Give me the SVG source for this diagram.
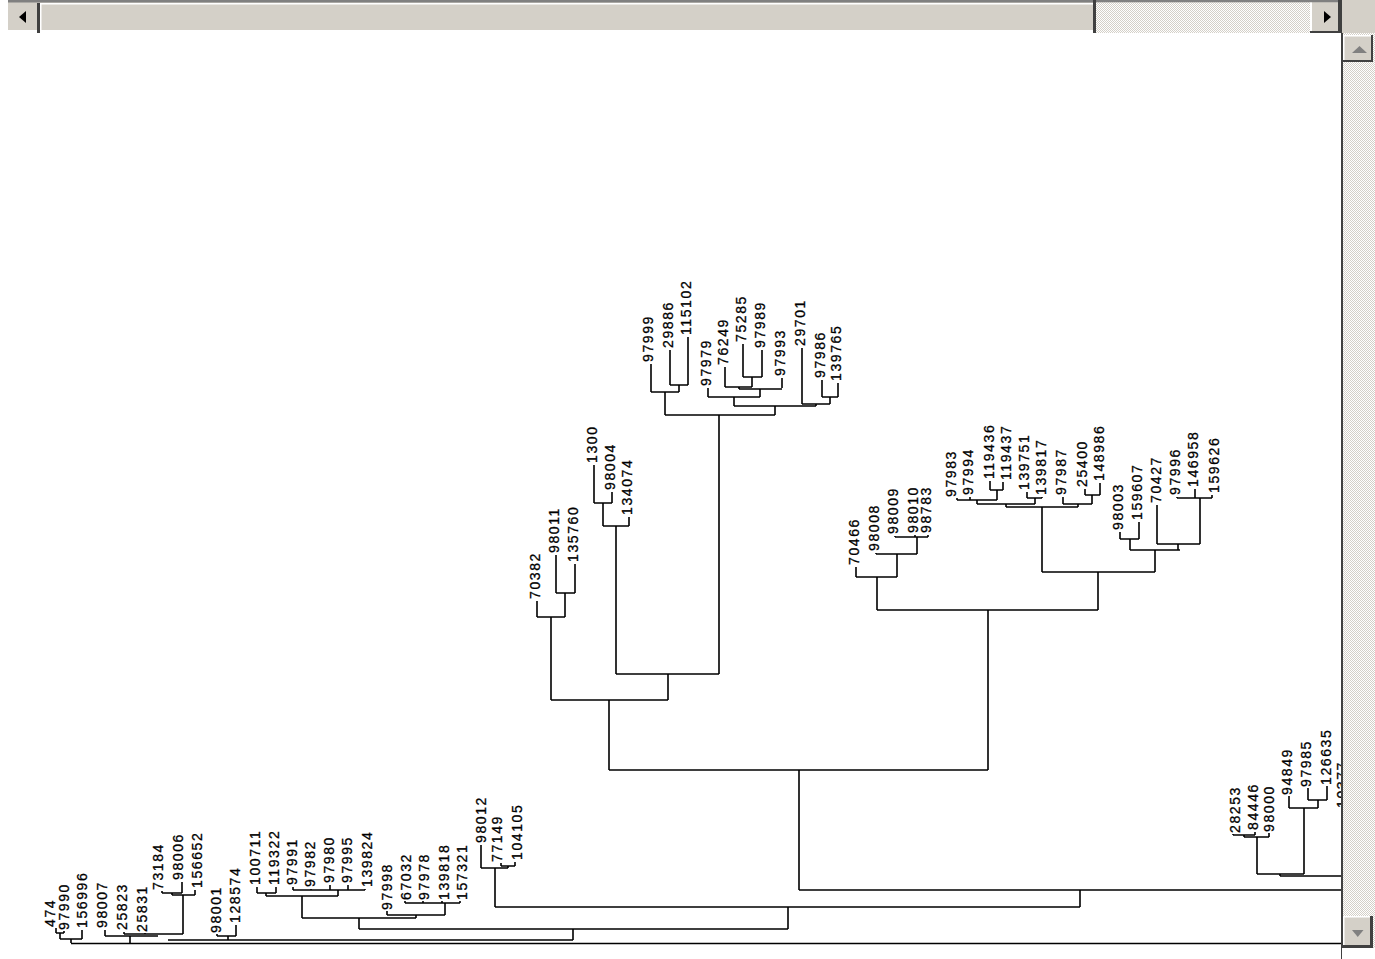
<svg xmlns="http://www.w3.org/2000/svg" width="1375" height="959" viewBox="0 0 1375 959">
<style>
text{font-family:"Liberation Sans",Arial,sans-serif;font-size:14px;letter-spacing:1.6px;fill:#000;stroke:#000;stroke-width:0.3}
.ln{fill:none;stroke:#000;stroke-width:1.6}
.face{fill:#d4d0c8}
</style>
<defs>
<pattern id="chk" width="2" height="2" patternUnits="userSpaceOnUse"><rect width="2" height="2" fill="#fff"/><rect width="1" height="1" fill="#d4d0c8"/><rect x="1" y="1" width="1" height="1" fill="#d4d0c8"/></pattern>
<clipPath id="view"><rect x="0" y="33" width="1342" height="926"/></clipPath>
</defs>
<rect width="1375" height="959" fill="#fff"/>
<g clip-path="url(#view)">
<g id="connectors">
<path class="ln" d="M651 364V392M670 350V385M688 337V385M708 388V397M725 367V387M743 344V377M762 350V377M782 378V388M802 348V404M822 380V397M838 383V397
M670 385H688M679 385V392M651 392H679M665 392V415M743 377H762M752 377V387M725 387H752M739 387V389M739 389H782M760 389V397M708 397H760M734 397V406M822 397H838M830 397V404M802 404H830M816 404V406M734 406H816M775 406V415M665 415H775M719 415V674
M594 465V503M612 492V503M594 503H612M603 503V526M629 517V526M603 526H629M616 526V674
M537 601V617M556 555V593M575 564V593M556 593H575M565 593V617M537 617H565M551 617V700
M616 674H719M668 674V700M551 700H668M609 700V770
M856 567V577M876 553V554M895 536V537M915 535V537M928 535V537M895 537H928M917 537V554M876 554H917M897 554V577M856 577H897M877 577V610
M957 498V500M970 497V500M990 481V490M1003 482V490M990 490H1003M997 490V500M957 500H997M977 500V504
M1027 492V498M1042 497V498M1027 498H1042M1035 498V504M977 504H1035M1006 504V507
M1063 497V504M1085 489V495M1100 483V495M1085 495H1100M1092 495V504M1063 504H1092M1078 504V507M1006 507H1078M1042 507V572
M1120 532V539M1139 522V539M1120 539H1139M1130 539V550
M1157 505V544M1177 497V498M1195 489V498M1212 495V498M1177 498H1212M1200 498V544M1157 544H1200M1178 544V550M1130 550H1180M1155 550V572
M1042 572H1155M1098 572V610M877 610H1098M988 610V770M609 770H988M799 770V890M799 890H1345
M1080 890V907M495 907H1080M788 907V929
M481 845V868M501 863V866M515 862V866M501 866H515M508 866V868M481 868H508M495 868V907
M387 911V915M405 901V903M423 901V903M442 901V903M460 901V903M405 903H460M445 903V915M387 915H445M416 915V918
M257 887V893M276 887V893M257 893H276M266 893V896
M293 887V890M311 889V890M330 885V890M348 885V890M365 889V890M293 890H365M338 890V896M266 896H338M302 896V918
M302 918H416M359 918V929M359 929H788M573 929V940
M56 928V933M64 931V933M56 933H64M60 933V939M82 930V939M60 939H82M71 939V943
M105 930V936M124 932V934M145 933V934M124 934H183
M162 891V893M182 882V893M195 890V895M162 893H182M172 893V895M172 895H195M183 895V934
M105 936H158M130 936V943
M217 934V936M236 925V936M217 936H236M228 936V940
M168 940H573M71 943.5H1345
M1233 834V835M1255 832V835M1233 835H1255M1244 835V837M1269 833V837M1244 837H1269M1257 837V874
M1289 796V808M1308 788V800M1327 786V800M1308 800H1327M1318 800V808M1289 808H1318M1304 808V874
M1257 874H1304M1280 874V876M1280 876H1345"/>
</g>
<g id="leaf-97999"><text transform="translate(653,362) rotate(-90)">97999</text></g>
<g id="leaf-29886"><text transform="translate(673,348) rotate(-90)">29886</text></g>
<g id="leaf-115102"><text transform="translate(691,335) rotate(-90)">115102</text></g>
<g id="leaf-97979"><text transform="translate(711,386) rotate(-90)">97979</text></g>
<g id="leaf-76249"><text transform="translate(728,365) rotate(-90)">76249</text></g>
<g id="leaf-75285"><text transform="translate(746,342) rotate(-90)">75285</text></g>
<g id="leaf-97989"><text transform="translate(765,348) rotate(-90)">97989</text></g>
<g id="leaf-97993"><text transform="translate(785,376) rotate(-90)">97993</text></g>
<g id="leaf-29701"><text transform="translate(805,346) rotate(-90)">29701</text></g>
<g id="leaf-97986"><text transform="translate(825,378) rotate(-90)">97986</text></g>
<g id="leaf-139765"><text transform="translate(841,381) rotate(-90)">139765</text></g>
<g id="leaf-70382"><text transform="translate(540,599) rotate(-90)">70382</text></g>
<g id="leaf-98011"><text transform="translate(559,553) rotate(-90)">98011</text></g>
<g id="leaf-135760"><text transform="translate(578,562) rotate(-90)">135760</text></g>
<g id="leaf-1300"><text transform="translate(597,463) rotate(-90)">1300</text></g>
<g id="leaf-98004"><text transform="translate(615,490) rotate(-90)">98004</text></g>
<g id="leaf-134074"><text transform="translate(632,515) rotate(-90)">134074</text></g>
<g id="leaf-70466"><text transform="translate(859,565) rotate(-90)">70466</text></g>
<g id="leaf-98008"><text transform="translate(879,551) rotate(-90)">98008</text></g>
<g id="leaf-98009"><text transform="translate(898,534) rotate(-90)">98009</text></g>
<g id="leaf-98010"><text transform="translate(918,533) rotate(-90)">98010</text></g>
<g id="leaf-98783"><text transform="translate(931,533) rotate(-90)">98783</text></g>
<g id="leaf-97983"><text transform="translate(956,497) rotate(-90)">97983</text></g>
<g id="leaf-97994"><text transform="translate(973,495) rotate(-90)">97994</text></g>
<g id="leaf-119436"><text transform="translate(994,479) rotate(-90)">119436</text></g>
<g id="leaf-119437"><text transform="translate(1011,480) rotate(-90)">119437</text></g>
<g id="leaf-139751"><text transform="translate(1029,490) rotate(-90)">139751</text></g>
<g id="leaf-139817"><text transform="translate(1046,495) rotate(-90)">139817</text></g>
<g id="leaf-97987"><text transform="translate(1066,495) rotate(-90)">97987</text></g>
<g id="leaf-25400"><text transform="translate(1087,487) rotate(-90)">25400</text></g>
<g id="leaf-148986"><text transform="translate(1104,481) rotate(-90)">148986</text></g>
<g id="leaf-98003"><text transform="translate(1123,530) rotate(-90)">98003</text></g>
<g id="leaf-159607"><text transform="translate(1142,520) rotate(-90)">159607</text></g>
<g id="leaf-70427"><text transform="translate(1161,503) rotate(-90)">70427</text></g>
<g id="leaf-97996"><text transform="translate(1180,495) rotate(-90)">97996</text></g>
<g id="leaf-146958"><text transform="translate(1198,487) rotate(-90)">146958</text></g>
<g id="leaf-159626"><text transform="translate(1219,493) rotate(-90)">159626</text></g>
<g id="leaf-474"><text transform="translate(55,927) rotate(-90)">474</text></g>
<g id="leaf-97990"><text transform="translate(69,930) rotate(-90)">97990</text></g>
<g id="leaf-156996"><text transform="translate(87,928) rotate(-90)">156996</text></g>
<g id="leaf-98007"><text transform="translate(107,928) rotate(-90)">98007</text></g>
<g id="leaf-25823"><text transform="translate(127,930) rotate(-90)">25823</text></g>
<g id="leaf-25831"><text transform="translate(147,932) rotate(-90)">25831</text></g>
<g id="leaf-73184"><text transform="translate(163,890) rotate(-90)">73184</text></g>
<g id="leaf-98006"><text transform="translate(183,880) rotate(-90)">98006</text></g>
<g id="leaf-156652"><text transform="translate(202,888) rotate(-90)">156652</text></g>
<g id="leaf-98001"><text transform="translate(221,933) rotate(-90)">98001</text></g>
<g id="leaf-128574"><text transform="translate(240,923) rotate(-90)">128574</text></g>
<g id="leaf-100711"><text transform="translate(260,885) rotate(-90)">100711</text></g>
<g id="leaf-119322"><text transform="translate(279,885) rotate(-90)">119322</text></g>
<g id="leaf-97991"><text transform="translate(297,885) rotate(-90)">97991</text></g>
<g id="leaf-97982"><text transform="translate(315,887) rotate(-90)">97982</text></g>
<g id="leaf-97980"><text transform="translate(334,883) rotate(-90)">97980</text></g>
<g id="leaf-97995"><text transform="translate(352,883) rotate(-90)">97995</text></g>
<g id="leaf-139824"><text transform="translate(372,887) rotate(-90)">139824</text></g>
<g id="leaf-97998"><text transform="translate(392,910) rotate(-90)">97998</text></g>
<g id="leaf-67032"><text transform="translate(411,900) rotate(-90)">67032</text></g>
<g id="leaf-97978"><text transform="translate(429,900) rotate(-90)">97978</text></g>
<g id="leaf-139818"><text transform="translate(449,900) rotate(-90)">139818</text></g>
<g id="leaf-157321"><text transform="translate(467,900) rotate(-90)">157321</text></g>
<g id="leaf-98012"><text transform="translate(486,843) rotate(-90)">98012</text></g>
<g id="leaf-77149"><text transform="translate(502,862) rotate(-90)">77149</text></g>
<g id="leaf-104105"><text transform="translate(522,860) rotate(-90)">104105</text></g>
<g id="leaf-28253"><text transform="translate(1240,833) rotate(-90)">28253</text></g>
<g id="leaf-84446"><text transform="translate(1258,830) rotate(-90)">84446</text></g>
<g id="leaf-98000"><text transform="translate(1274,832) rotate(-90)">98000</text></g>
<g id="leaf-94849"><text transform="translate(1292,795) rotate(-90)">94849</text></g>
<g id="leaf-97985"><text transform="translate(1311,787) rotate(-90)">97985</text></g>
<g id="leaf-126635"><text transform="translate(1331,785) rotate(-90)">126635</text></g>
<g id="leaf-partial"><text transform="translate(1347,808) rotate(-90)">10377</text></g>
</g>
<g id="hscroll">
<rect x="8" y="0" width="1334" height="33" class="face"/>
<rect x="8" y="0" width="1334" height="2.5" fill="#808080"/>
<rect x="8" y="30" width="1334" height="3" fill="#fff"/>
<rect x="9" y="3" width="28" height="27" class="face"/>
<rect x="37" y="3" width="3" height="30" fill="#404040"/>
<path d="M19 17L26 11V23Z" fill="#000"/>
<rect x="40" y="3" width="1053" height="1.5" fill="#fff"/>
<rect x="40" y="3" width="1.5" height="27" fill="#fff"/>
<rect x="1093" y="0" width="3" height="33" fill="#404040"/>
<rect x="1096" y="2.5" width="214" height="30.5" fill="url(#chk)"/>
<rect x="1310" y="2.5" width="30" height="28.5" class="face"/>
<rect x="1310" y="2.5" width="2" height="28.5" fill="#fff"/>
<rect x="1338" y="0" width="4" height="33" fill="#404040"/>
<rect x="1310" y="31" width="30" height="2" fill="#404040"/>
<path d="M1331 17L1324 11V23Z" fill="#000"/>
<rect x="1342" y="0" width="33" height="33" class="face"/>
</g>
<g id="vscroll">
<rect x="1342" y="33" width="33" height="926" fill="url(#chk)"/>
<rect x="1341" y="33" width="2" height="926" fill="#404040"/>
<rect x="1343" y="35" width="30" height="27" class="face"/>
<rect x="1343" y="35" width="30" height="1.5" fill="#fff"/>
<rect x="1343" y="35" width="1.5" height="27" fill="#fff"/>
<rect x="1371" y="35" width="2" height="27" fill="#404040"/>
<rect x="1343" y="60" width="30" height="2" fill="#404040"/>
<path d="M1352 53L1359.5 46L1367 53Z" fill="#808080"/>
<rect x="1343" y="916" width="30" height="31" class="face"/>
<rect x="1343" y="916" width="30" height="1.5" fill="#fff"/>
<rect x="1343" y="916" width="1.5" height="31" fill="#fff"/>
<rect x="1370" y="916" width="3" height="32" fill="#404040"/>
<rect x="1343" y="945" width="30" height="3" fill="#404040"/>
<path d="M1352 930L1363.5 930L1357.75 937Z" fill="#808080"/>
<rect x="1342" y="948" width="33" height="11" fill="#fff"/>
</g>
</svg>
